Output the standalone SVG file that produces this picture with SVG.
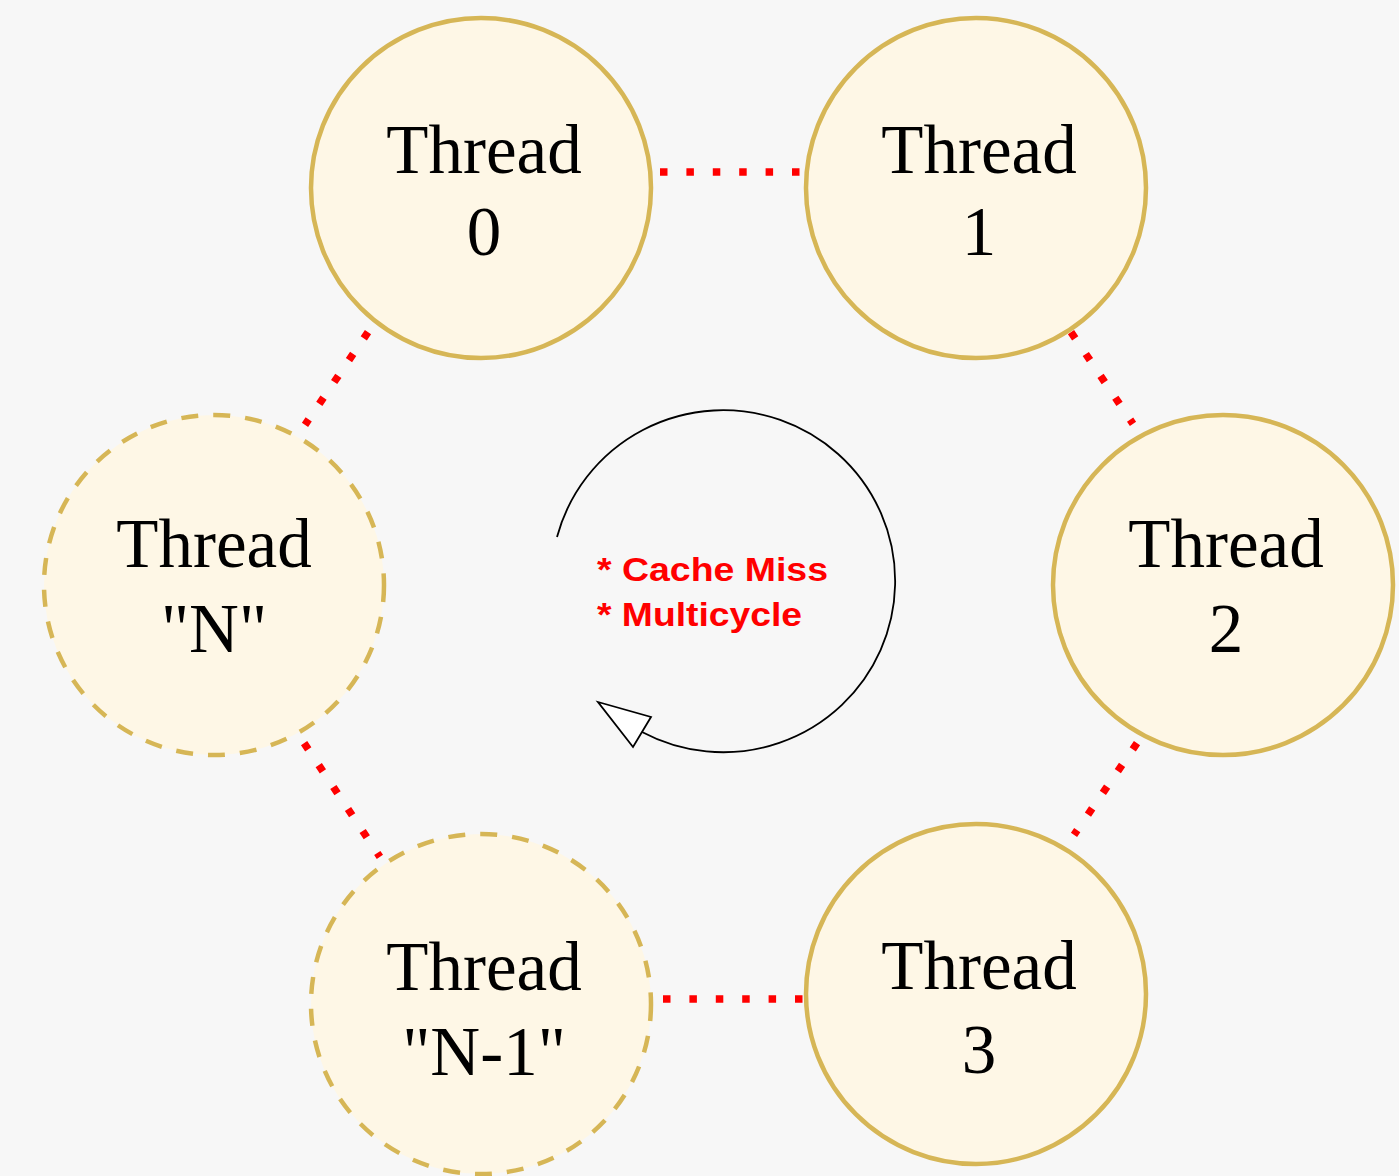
<svg xmlns="http://www.w3.org/2000/svg" width="1399" height="1176" viewBox="0 0 1399 1176">
  <style>
    .bg { fill: #f7f7f7; }
    .node { fill: #fef7e6; stroke: #d6b656; stroke-width: 4.5; }
    .node.dashed { stroke-dasharray: 17 15; }
    .label { font-family: "Liberation Serif", "Times New Roman", serif; font-size: 69px; fill: #000; text-anchor: middle; }
    .link { stroke: #ff0000; stroke-width: 7.5; stroke-dasharray: 7.5 18.9; fill: none; stroke-linecap: butt; }
    .cycle { fill: none; stroke: #000; stroke-width: 1.8; }
    .head { fill: #fff; stroke: #000; stroke-width: 1.8; stroke-linejoin: miter; }
    .note { font-family: "Liberation Sans", Arial, sans-serif; font-weight: bold; font-size: 34px; fill: #ff0000; }
  </style>

  <rect class="bg" x="0" y="0" width="1399" height="1176"/>

  <!-- ring connectors between neighbouring threads -->
  <g id="connectors">
    <line class="link" x1="660" y1="172" x2="802" y2="172"/>
    <line class="link" x1="1071" y1="332.1" x2="1133" y2="423.9"/>
    <line class="link" x1="1137" y1="743.1" x2="1074" y2="834.9"/>
    <line class="link" x1="663" y1="999" x2="806" y2="999"/>
    <line class="link" x1="304.1" y1="743.1" x2="379.9" y2="856.9"/>
    <line class="link" x1="368" y1="332.1" x2="305" y2="424.9"/>
  </g>

  <!-- thread nodes -->
  <g id="thread-0">
    <circle class="node" cx="481" cy="188" r="170"/>
    <text class="label" x="484" y="173">Thread</text>
    <text class="label" x="484" y="255">0</text>
  </g>
  <g id="thread-1">
    <circle class="node" cx="976" cy="188" r="170"/>
    <text class="label" x="979" y="173">Thread</text>
    <text class="label" x="979" y="255">1</text>
  </g>
  <g id="thread-2">
    <circle class="node" cx="1223" cy="585" r="170"/>
    <text class="label" x="1226" y="567">Thread</text>
    <text class="label" x="1226" y="652">2</text>
  </g>
  <g id="thread-3">
    <circle class="node" cx="976" cy="994" r="170"/>
    <text class="label" x="979" y="989">Thread</text>
    <text class="label" x="979" y="1073">3</text>
  </g>
  <g id="thread-n-1">
    <circle class="node dashed" cx="481" cy="1004" r="170"/>
    <text class="label" x="484" y="990">Thread</text>
    <text class="label" x="484" y="1075">"N-1"</text>
  </g>
  <g id="thread-n">
    <circle class="node dashed" cx="214" cy="585" r="170"/>
    <text class="label" x="214" y="567">Thread</text>
    <text class="label" x="214" y="652">"N"</text>
  </g>

  <!-- scheduling cycle in the middle -->
  <g id="cycle">
    <path class="cycle" d="M557,537 A172,171 0 1 1 642,732"/>
    <polygon class="head" points="598,702 651,717 633,747"/>
    <text class="note" x="597" y="581" textLength="231" lengthAdjust="spacingAndGlyphs">* Cache Miss</text>
    <text class="note" x="597" y="626" textLength="205" lengthAdjust="spacingAndGlyphs">* Multicycle</text>
  </g>
</svg>
